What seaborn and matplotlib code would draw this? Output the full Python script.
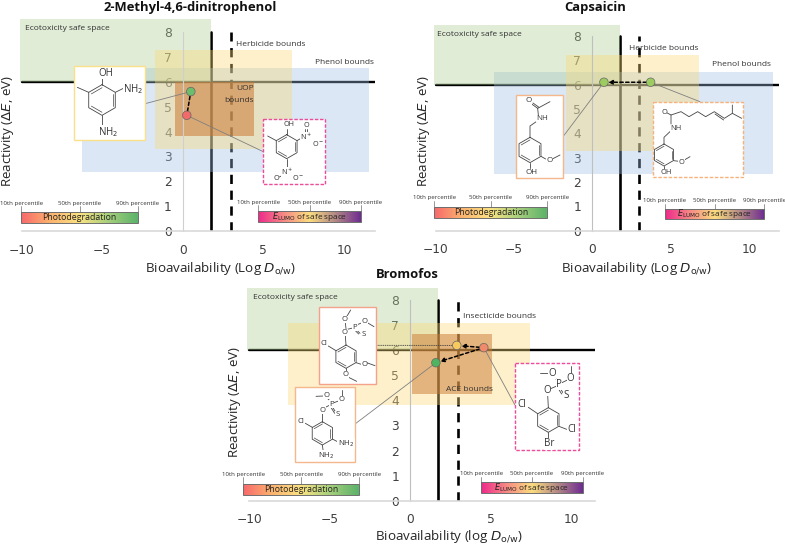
import numpy as np
import pandas as pd
import matplotlib
matplotlib.use("Agg")
import matplotlib.pyplot as plt
from matplotlib.colors import LinearSegmentedColormap
from matplotlib.patches import Rectangle
import seaborn as sns

W, H = 785, 547

# values
p1_names = ["parent", "product"]
p1_x = [0.25, 0.5]
p1_y = [4.65, 5.6]
p2_names = ["parent", "product"]
p2_x = [3.72, 0.74]
p2_y = [6.1, 6.1]
p3_names = ["parent", "mid", "product"]
p3_x = [4.58, 2.9, 1.6]
p3_y = [6.1, 6.19, 5.5]

# bounds: x0, x1, y0, y1
p1_green = [-10.1, 1.74, 6, 8.5]
p1_yellow = [-1.7, 6.8, 3.3, 7.25]
p1_blue = [-6.25, 11.55, 2.38, 6.55]
p1_orange = [-0.5, 4.43, 3.82, 5.97]
p2_green = [-10.1, 1.74, 6, 8.45]
p2_yellow = [-1.7, 6.8, 3.29, 7.23]
p2_blue = [-6.28, 11.53, 2.34, 6.53]
p3_green = [-10.17, 1.72, 6, 8.47]
p3_yellow = [-7.6, 7.43, 3.81, 7.09]
p3_orange = [0.12, 5.09, 4.24, 6.63]

xticks = [-10, -5, 0, 5, 10]
yticks = [0, 1, 2, 3, 4, 5, 6, 7, 8]
safe_x = 1.74
class_x = 3
safe_y = 6

GREEN = "#a9cc8f"
YELLOW = "#fbd977"
BLUE = "#9dbde2"
ORANGE = "#cc7a33"

sns.set_style("white")
plt.rcParams["font.family"] = ["DejaVu Sans"]
plt.rcParams["mathtext.fontset"] = "dejavusans"
LABEL_FONT = "Open Sans"

fig = plt.figure(figsize=(W / 100, H / 100), dpi=100)

over = fig.add_axes([0, 0, 1, 1], zorder=10)
over.patch.set_alpha(0)
over.axis("off")


def make_axes(x_m10, x_10, x_end, y_0, y_8, grey):
    # pixel positions of the axis ends -> axes box
    sx = (x_10 - x_m10) / 20
    sy = (y_0 - y_8) / 8
    left = x_m10 - 0.5 * sx
    right = x_m10 + (x_end + 10) * sx
    top = y_0 - 8.6 * sy
    ax = fig.add_axes([left / W, 1 - y_0 / H, (right - left) / W, (y_0 - top) / H])
    ax.patch.set_alpha(0)
    ax.set_xlim(-10.5, x_end)
    ax.set_ylim(0, 8.6)
    ax.set_axisbelow(True)
    ax.set_xticks(xticks)
    ax.set_yticks(yticks)
    ax.tick_params(axis="both", length=0, labelsize=8.8, labelcolor="#404040")
    ax.tick_params(axis="x", pad=9)
    ax.tick_params(axis="y", pad=8)
    sns.despine(ax=ax, top=True, right=True)
    ax.spines["left"].set_position(("data", 0))
    ax.spines["left"].set_bounds(0, 8)
    ax.spines["left"].set_color(grey)
    ax.spines["bottom"].set_bounds(-10, x_end)
    ax.spines["bottom"].set_color("#d9d9d9")
    ax.spines["bottom"].set_linewidth(1.2)
    ax.plot([-10, x_end], [safe_y, safe_y], color="black", lw=1.7, zorder=1)
    ax.plot([safe_x, safe_x], [0, 8], color="black", lw=1.9, zorder=1)
    ax.plot([class_x, class_x], [0, 8], color="black", lw=1.9, ls=(0, (3.5, 2.5)), zorder=1)
    return ax


def band(ax, bounds, color, alpha):
    x0, x1, y0, y1 = bounds
    ax.add_patch(Rectangle((x0, y0), x1 - x0, y1 - y0, fc=color, ec="none", alpha=alpha, zorder=2))


def points(ax, names, xs, ys, colors):
    df = pd.DataFrame({"x": xs, "y": ys, "name": names})
    sns.scatterplot(data=df, x="x", y="y", hue="name", palette=colors, legend=False, s=38,
                    edgecolor="#666666", linewidth=0.5, zorder=6, ax=ax)
    ax.set_xlabel("")
    ax.set_ylabel("")


def step(ax, start, end, head=True):
    style = "-|>,head_length=0.25,head_width=0.12" if head else "-"
    ax.annotate("", xy=end, xytext=start, zorder=5,
                arrowprops=dict(arrowstyle=style, ls=(0, (2.2, 1.6)), lw=1.1, color="black",
                                shrinkA=3, shrinkB=3))


def leader(ax, point, box_px, color="#7f7f7f", ls="-"):
    ax.annotate("", xy=point, xytext=box_px, textcoords=over.transData, zorder=4,
                arrowprops=dict(arrowstyle="-", lw=0.6, color=color, ls=ls, shrinkA=0, shrinkB=0))


def labels(ax, xtext, ytext, xpos, ypos, title, tpos):
    ax.set_xlabel(xtext, fontsize=9.6, family=LABEL_FONT, color="#262626")
    ax.xaxis.set_label_coords(xpos[0], xpos[1], transform=over.transData)
    ax.xaxis.label.set_va("center")
    ax.set_ylabel(ytext, fontsize=9.6, family=LABEL_FONT, color="#262626")
    ax.yaxis.set_label_coords(ypos[0], ypos[1], transform=over.transData)
    ax.yaxis.label.set_va("center")
    over.text(tpos[0], tpos[1], title, fontsize=9.4, fontweight="bold", family=LABEL_FONT,
              ha="center", va="center", color="#111111")


def note(x, y, s, **kw):
    over.text(x, y, s, fontsize=6.05, family=LABEL_FONT, color="#333333", va="center", **kw)


def scale_bar(x0, x1, y0, y1, label_y, colors, text, size):
    cmap = LinearSegmentedColormap.from_list("bar", colors)
    over.imshow(np.linspace(0, 1, 200)[None, :], cmap=cmap, aspect="auto",
                extent=(x0, x1, y1, y0), zorder=3)
    over.add_patch(Rectangle((x0, y0), x1 - x0, y1 - y0, fc="none", ec="#6e6e6e", lw=0.7, zorder=4))
    mid = (x0 + x1) / 2
    for xp, pct in zip([x0, mid, x1], ["10th", "50th", "90th"]):
        over.plot([xp, xp], [y0, label_y + 3], color="#6e6e6e", lw=0.5, zorder=3)
        over.text(xp, label_y, pct + " percentile", fontsize=4.4, family=LABEL_FONT, color="#333333",
                  ha="center", va="center")
    over.text(mid, (y0 + y1) / 2, text, fontsize=size, family=LABEL_FONT, color="#222222",
              ha="center", va="center", zorder=5)


def ring(center, r, off):
    cx, cy = center
    angles = np.radians(90 + 60 * np.arange(6))
    vx = cx + r * np.cos(angles)
    vy = cy - r * np.sin(angles)
    over.plot((np.r_[vx, vx[0]] + off[0] * 3) / 3, (np.r_[vy, vy[0]] + off[1] * 3) / 3,
              color="#444444", lw=0.6, zorder=7)
    for k in [0, 2, 4]:
        a = 0.8
        p, q = k, (k + 1) % 6
        ix = cx + a * (np.array([vx[p], vx[q]]) - cx)
        iy = cy + a * (np.array([vy[p], vy[q]]) - cy)
        over.plot((ix + off[0] * 3) / 3, (iy + off[1] * 3) / 3, color="#444444", lw=0.5, zorder=7)


def molecule(box, edge, ls, off, ring_at, r, bonds, atoms, size=5.8):
    # coordinates come from 3x crops, off is the crop corner
    x0, y0, x1, y1 = box
    over.add_patch(Rectangle((off[0] + x0 / 3, off[1] + y0 / 3), (x1 - x0) / 3, (y1 - y0) / 3,
                             fc="white", ec=edge, lw=1.0, ls=ls, zorder=6))
    ring(ring_at, r, off)
    for chain in bonds:
        arr = np.array(chain) / 3
        over.plot(off[0] + arr[:, 0], off[1] + arr[:, 1], color="#444444", lw=0.6, zorder=7)
    for x, y, s in atoms:
        over.text(off[0] + x / 3, off[1] + y / 3, s, fontsize=size, family=LABEL_FONT, color="#333333",
                  ha="center", va="center", zorder=8,
                  bbox=dict(fc="white", ec="none", pad=0.2))


PHOTO = ["#f8696b", "#fbb36f", "#fbe383", "#a6cf7c", "#5cb36a"]
LUMO = ["#ee2a8b", "#f68a84", "#fbdc7f", "#b48a86", "#6f2c91"]
E_TEXT = r"$E_{\mathrm{LUMO}}$ of safe space"
X_TEXT = "Bioavailability (Log $D_{\\mathrm{o/w}}$)"
Y_TEXT = "Reactivity ($\\Delta E$, eV)"

# panel 1
ax1 = make_axes(21.5, 344, 11.95, 231.3, 31.7, "#cfcfcf")
band(ax1, p1_blue, BLUE, 0.36)
band(ax1, p1_green, GREEN, 0.36)
band(ax1, p1_yellow, YELLOW, 0.38)
band(ax1, p1_orange, ORANGE, 0.55)
points(ax1, p1_names, p1_x, p1_y, ["#f26a6a", "#6cbd6c"])
step(ax1, (p1_x[0], p1_y[0]), (p1_x[1], p1_y[1]), head=False)
leader(ax1, (p1_x[1], p1_y[1]), (145, 103.7))
leader(ax1, (p1_x[0], p1_y[0]), (263.3, 151.7))
labels(ax1, X_TEXT, Y_TEXT, (221, 269), (8, 131), "2-Methyl-4,6-dinitrophenol", (190.7, 7))
note(25.3, 29, "Ecotoxicity safe space")
note(235.7, 44.7, "Herbicide bounds")
note(314.7, 62.7, "Phenol bounds")
note(254, 88, "UOP", ha="right")
note(254, 100, "bounds", ha="right")
scale_bar(21.3, 137.7, 212.3, 223.3, 203, PHOTO, "Photodegradation", 6.3)
scale_bar(258.3, 361, 210.7, 221.7, 202.3, LUMO, E_TEXT, 5.9)
molecule((221, 199, 435, 421), "#fbe08a", "-", (0, 0), (306, 300), 46,
         [[(305, 254), (305, 234)], [(266, 277), (232, 262)], [(346, 277), (372, 264)], [(306, 346), (306, 380)]],
         [(317, 220, "OH"), (400, 266, "NH$_2$"), (324, 396, "NH$_2$")], size=7)
molecule((790, 358, 976, 553), "#ee4c9b", (0, (2.5, 1.2)), (0, 0), (860, 440), 36,
         [[(860, 404), (860, 388)], [(829, 422), (803, 408)], [(891, 422), (908, 412)],
          [(916, 400), (916, 388)], [(922, 400), (922, 388)], [(932, 420), (942, 425)],
          [(860, 476), (860, 505)], [(850, 525), (838, 531)], [(873, 525), (885, 531)]],
         [(868, 375, "OH"), (918, 412, "N$^+$"), (919, 377, "O"), (955, 432, "O$^-$"),
          (862, 516, "N$^+$"), (828, 535, "O"), (893, 533, "O$^-$")], size=5.2)

# panel 2
ax2 = make_axes(435.7, 749, 11.9, 230.7, 36, "#bfbfbf")
band(ax2, p2_blue, BLUE, 0.36)
band(ax2, p2_green, GREEN, 0.36)
band(ax2, p2_yellow, YELLOW, 0.38)
points(ax2, p2_names, p2_x, p2_y, ["#9ccc5f", "#9ccc5f"])
step(ax2, (p2_x[0], p2_y[0]), (p2_x[1], p2_y[1]))
leader(ax2, (p2_x[1], p2_y[1]), (563, 136.7))
leader(ax2, (p2_x[0], p2_y[0]), (700, 101.7))
labels(ax2, X_TEXT, Y_TEXT, (636.7, 269), (424, 131), "Capsaicin", (595, 7.3))
note(436.7, 34, "Ecotoxicity safe space")
note(629.3, 48, "Herbicide bounds")
note(712, 64, "Phenol bounds")
scale_bar(434.3, 547.3, 207.3, 218.3, 198, PHOTO, "Photodegradation", 6.3)
scale_bar(665, 764.3, 209, 219, 200.7, LUMO, E_TEXT, 5.9)
molecule((364, 285, 504, 534), "#f5b78c", "-", (395, 0), (405, 450), 38,
         [[(428, 325), (465, 305)], [(428, 325), (410, 312)], [(432, 322), (414, 309)], [(428, 325), (430, 345)],
          [(428, 362), (405, 378), (405, 412)], [(405, 488), (405, 505)], [(438, 469), (452, 477)],
          [(472, 477), (495, 465)]],
         [(402, 303, "O"), (443, 355, "NH"), (463, 480, "O"), (410, 517, "OH")], size=5.8)
molecule((775, 305, 1045, 532), "#f7b27a", (0, (2.5, 1.2)), (395, 0), (807, 465), 33,
         [[(807, 432), (807, 412), (828, 392)], [(828, 372), (828, 345), (858, 335), (882, 350), (908, 335),
                                                 (932, 350), (958, 335), (988, 355), (1012, 340), (1012, 315)],
          [(828, 345), (815, 338)], [(960, 342), (986, 360)], [(1012, 340), (1040, 355)],
          [(836, 482), (852, 484)], [(868, 480), (885, 470)], [(807, 498), (807, 508)]],
         [(807, 338, "O"), (843, 385, "NH"), (860, 487, "O"), (815, 517, "OH")], size=5.4)

# panel 3
ax3 = make_axes(249.3, 571, 11.5, 500.7, 300, "#bfbfbf")
band(ax3, p3_green, GREEN, 0.36)
band(ax3, p3_yellow, YELLOW, 0.38)
band(ax3, p3_orange, ORANGE, 0.5)
points(ax3, p3_names, p3_x, p3_y, ["#f08a6a", "#f7c95f", "#4fb35f"])
step(ax3, (p3_x[0], p3_y[0]), (p3_x[1], p3_y[1]))
step(ax3, (p3_x[0], p3_y[0]), (p3_x[2], p3_y[2]))
leader(ax3, (p3_x[1], p3_y[1]), (376.3, 345.3), ls=":", color="#404040")
leader(ax3, (p3_x[2], p3_y[2]), (355, 424))
leader(ax3, (p3_x[0], p3_y[0]), (515, 405))
labels(ax3, X_TEXT.replace("Log", "log"), Y_TEXT, (449, 537), (235, 402), "Bromofos", (407, 274))
note(252.7, 297.3, "Ecotoxicity safe space")
note(463.3, 316, "Insecticide bounds")
note(446, 389.3, "ACE bounds")
scale_bar(243.3, 359.3, 484, 495, 474.3, PHOTO, "Photodegradation", 6.3)
scale_bar(481.3, 582.7, 481.7, 492.7, 474, LUMO, E_TEXT, 5.9)
off3 = (200, 270)
molecule((356, 110, 529, 341), "#f4a28c", "-", off3, (438, 260), 35,
         [[(408, 242), (385, 228)], [(438, 225), (436, 197)], [(442, 178), (458, 174)], [(438, 176), (436, 158)],
          [(440, 140), (452, 120)], [(472, 164), (484, 159)], [(502, 158), (522, 170)],
          [(470, 180), (480, 190)], [(466, 182), (476, 192)],
          [(468, 278), (484, 283)], [(500, 278), (525, 287)], [(438, 295), (438, 307)], [(446, 322), (470, 334)]],
         [(373, 220, "Cl"), (435, 187, "O"), (465, 172, "P"), (435, 148, "O"), (493, 155, "O"), (490, 195, "S"),
          (492, 283, "O"), (437, 315, "O")], size=5.6)
molecule((285, 350, 465, 575), "#f5b78c", "-", off3, (367, 490), 35,
         [[(337, 472), (316, 460)], [(367, 455), (367, 430)], [(372, 414), (388, 406)], [(392, 394), (382, 385)],
          [(402, 398), (418, 392)], [(425, 378), (425, 360)], [(398, 412), (408, 428)], [(394, 414), (404, 430)],
          [(348, 379), (370, 378)], [(397, 507), (418, 518)], [(367, 525), (370, 546)]],
         [(303, 455, "Cl"), (367, 420, "O"), (395, 402, "P"), (413, 433, "S"), (378, 377, "O"), (425, 388, "O"),
          (438, 522, "NH$_2$"), (380, 556, "NH$_2$")], size=5.6)
molecule((945, 278, 1136, 541), "#ee4c9b", (0, (2.5, 1.2)), off3, (1045, 450), 37,
         [[(1013, 431), (985, 412)], [(1077, 469), (1100, 478)], [(1045, 487), (1046, 510)], [(1045, 413), (1043, 374)],
          [(1052, 356), (1068, 349)], [(1072, 333), (1063, 320)], [(1086, 338), (1102, 330)], [(1112, 313), (1112, 288)],
          [(1080, 354), (1090, 370)], [(1075, 356), (1085, 372)], [(1020, 310), (1047, 310)]],
         [(965, 403, "Cl"), (1115, 480, "Cl"), (1047, 522, "Br"), (1042, 362, "O"), (1077, 343, "P"),
          (1097, 378, "S"), (1057, 310, "O"), (1112, 325, "O")], size=7)

over.set_xlim(0, W)
over.set_ylim(H, 0)

fig.savefig("out.png", dpi=100)
